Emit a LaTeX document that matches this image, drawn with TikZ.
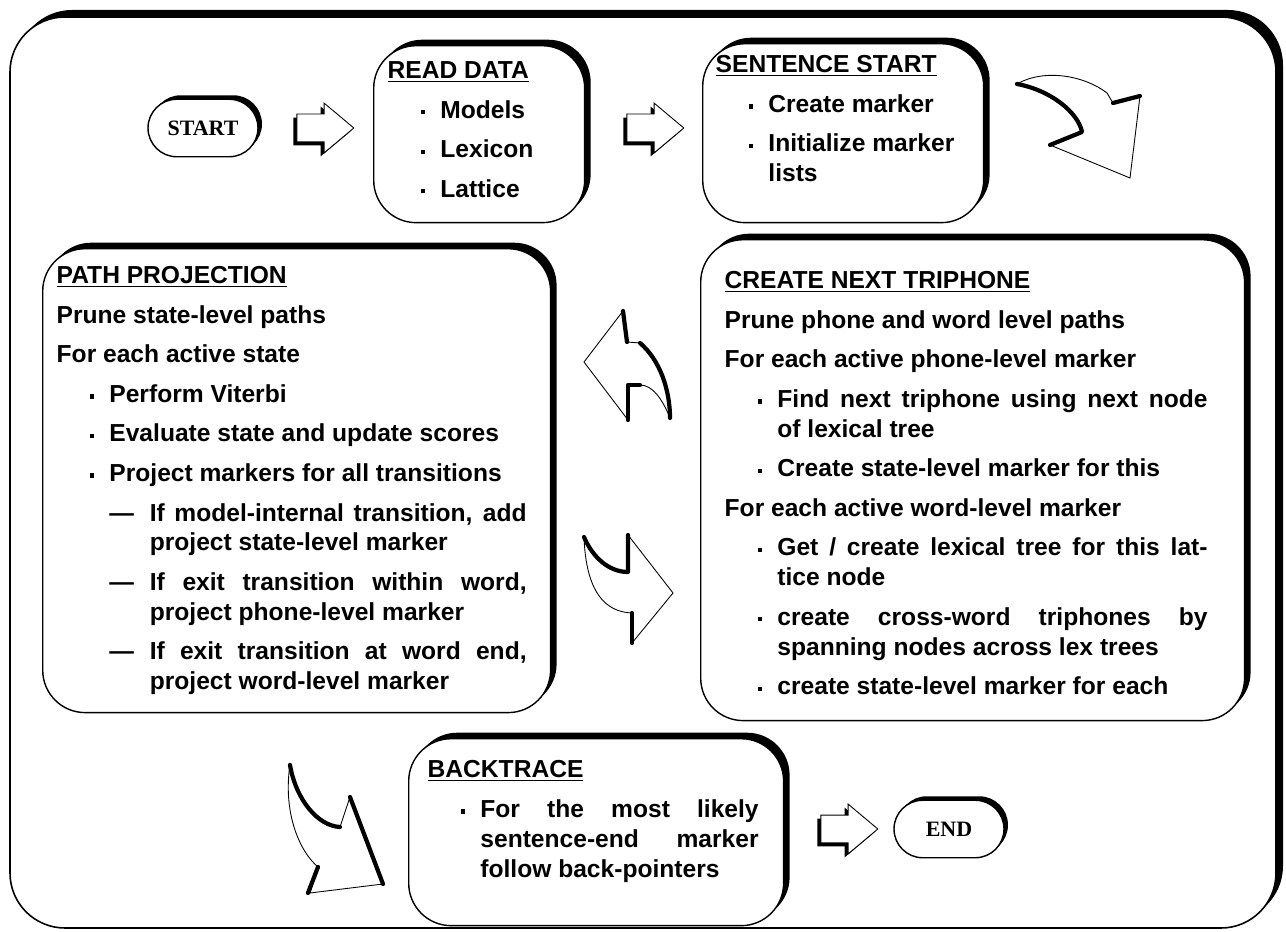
\documentclass[tikz,border=0pt]{standalone}
\usepackage{fontspec}
\setmainfont{Liberation Sans}
\newfontfamily\termfont{Liberation Serif}
\usetikzlibrary{shapes.misc,shapes.arrows,shadows}

% small square bullet and the lines of a step box
\newcommand{\dotmark}{\raisebox{0.3ex}{\rule{2.4pt}{2.4pt}}}
\newcommand{\boxbody}[3]{\begin{minipage}[t][#2][t]{#1}\fontsize{14}{17}\selectfont\bfseries #3\end{minipage}}
\newcommand{\boxtitle}[1]{\noindent\underline{#1}}
\newcommand{\plainline}[1]{\par\vspace{5.5pt}\noindent #1}
\newcommand{\bulletline}[1]{\par\vspace{5.5pt}\hangindent=30pt\hangafter=1\noindent\hbox to 30pt{\hskip 19pt\dotmark\hfil}#1}
\newcommand{\dashline}[1]{\par\vspace{5.5pt}\hangindent=53pt\hangafter=1\noindent\hbox to 53pt{\hskip 30pt—\hfil}#1}

\begin{document}
\begin{tikzpicture}[x=0.02cm, y=-0.02cm,
    frame/.style={draw, fill=white, line width=0.9pt, rounded corners=1.1cm,
      drop shadow={shadow xshift=0.14cm, shadow yshift=0.14cm, opacity=1, fill=black}},
    stepbox/.style={draw, fill=white, line width=0.8pt, rounded corners=0.85cm, anchor=north west,
      drop shadow={shadow xshift=0.12cm, shadow yshift=0.12cm, opacity=1, fill=black}},
    terminal/.style={draw, fill=white, line width=0.8pt, rounded rectangle, inner sep=0pt,
      minimum width=2.2cm, minimum height=1.15cm, font=\termfont\bfseries\fontsize{12.5}{14}\selectfont,
      drop shadow={shadow xshift=0.08cm, shadow yshift=0.08cm, opacity=1, fill=black}},
    blockarrow/.style={draw, fill=white, line width=0.5pt, single arrow, inner xsep=0pt, inner ysep=0.27cm,
      minimum height=1.14cm, single arrow head extend=0.22cm, single arrow tip angle=80,
      drop shadow={shadow xshift=-0.07cm, shadow yshift=-0.07cm, opacity=1, fill=black}},
    bendarrow/.style={draw, fill=white, line width=0.5pt},
    bendedge/.style={line width=2.4pt, line cap=round, line join=round}
  ]
  \useasboundingbox (0,0) rectangle (1286,932);

  % outer frame
  \draw[frame] (10,17) rectangle (1276,928);

  % top row
  \node[terminal] (start) at (203,128) {START};
  \node[blockarrow] (arrA) at (317,128) {};
  \node[stepbox, inner xsep=0.28cm, inner ysep=0.32cm] (read) at (373,45)
    {\boxbody{3.66cm}{2.9cm}{%
      \boxtitle{READ DATA}
      \bulletline{Models}
      \bulletline{Lexicon}
      \bulletline{Lattice}}};
  \node[blockarrow] (arrB) at (647,128) {};
  \node[stepbox, inner xsep=0.26cm, inner ysep=0.24cm] (sent) at (702,43)
    {\boxbody{5.1cm}{3.1cm}{%
      \boxtitle{SENTENCE START}
      \bulletline{Create marker}
      \bulletline{Initialize marker\newline lists}}};

  % curved arrow down to the right
  \draw[bendarrow] (1017,84) .. controls (1045,68) and (1085,76) .. (1107,93) -- (1113,103) -- (1140,96)
    -- (1130,178) -- (1050,145) -- (1082,132) .. controls (1078,112) and (1050,90) .. cycle;
  \draw[bendedge] (1113,103) -- (1140,96);
  \draw[bendedge] (1050,145) -- (1082,132) .. controls (1078,112) and (1050,90) .. (1017,84);

  % middle row
  \node[stepbox, inner xsep=0.28cm, inner ysep=0.36cm] (path) at (42,248)
    {\boxbody{9.6cm}{8.56cm}{\rightskip=0.2cm
      \boxtitle{PATH PROJECTION}
      \plainline{Prune state-level paths}
      \plainline{For each active state}
      \bulletline{Perform Viterbi}
      \bulletline{Evaluate state and update scores}
      \bulletline{Project markers for all transitions}
      \dashline{If model-internal transition, add\linebreak project state-level marker}
      \dashline{If exit transition within word,\linebreak project phone-level marker}
      \dashline{If exit transition at word end,\linebreak project word-level marker}}};
  \node[stepbox, inner xsep=0.48cm, inner ysep=0.64cm] (create) at (700,239)
    {\boxbody{9.92cm}{8.34cm}{\rightskip=0.26cm
      \boxtitle{CREATE NEXT TRIPHONE}
      \plainline{Prune phone and word level paths}
      \plainline{For each active phone-level marker}
      \bulletline{Find next triphone using next node\linebreak of lexical tree}
      \bulletline{Create state-level marker for this}
      \plainline{For each active word-level marker}
      \bulletline{Get / create lexical tree for this lat-\linebreak tice node}
      \bulletline{create cross-word triphones by\linebreak spanning nodes across lex trees}
      \bulletline{create state-level marker for each}}};

  % curved arrows between the middle boxes
  \draw[bendarrow] (584,362) -- (623,311) -- (627,342) -- (640,343) .. controls (660,360) and (670,390) .. (670,418)
    .. controls (662,398) and (652,385) .. (640,385) -- (628,385) -- (628,420) -- cycle;
  \draw[bendedge] (623,311) -- (627,342);
  \draw[bendedge] (640,343) .. controls (660,360) and (670,390) .. (670,418);
  \draw[bendedge] (640,385) -- (628,385) -- (628,420);
  \draw[bendarrow] (584,537) .. controls (592,556) and (608,572) .. (628,572) -- (628,535) -- (673,593)
    -- (632,643) -- (632,613) .. controls (605,612) and (586,592) .. cycle;
  \draw[bendedge] (584,537) .. controls (592,556) and (608,572) .. (628,572) -- (628,535);
  \draw[bendedge] (632,643) -- (632,613);

  % bottom row
  \draw[bendarrow] (290,765) .. controls (296,800) and (318,826) .. (340,827) -- (350,797) -- (383,884)
    -- (310,893) -- (318,867) .. controls (298,850) and (283,810) .. cycle;
  \draw[bendedge] (290,765) .. controls (296,800) and (318,826) .. (340,827);
  \draw[bendedge] (350,797) -- (383,884);
  \draw[bendedge] (318,867) -- (308,893);
  \node[stepbox, inner xsep=0.38cm, inner ysep=0.44cm] (back) at (408,738)
    {\boxbody{6.74cm}{2.86cm}{\rightskip=0.12cm
      \boxtitle{BACKTRACE}
      \bulletline{For the most likely\linebreak sentence-end marker\linebreak follow back-pointers}}};
  \node[blockarrow] (arrC) at (841,829) {};
  \node[terminal] (end) at (949,829) {END};
\end{tikzpicture}
\end{document}
